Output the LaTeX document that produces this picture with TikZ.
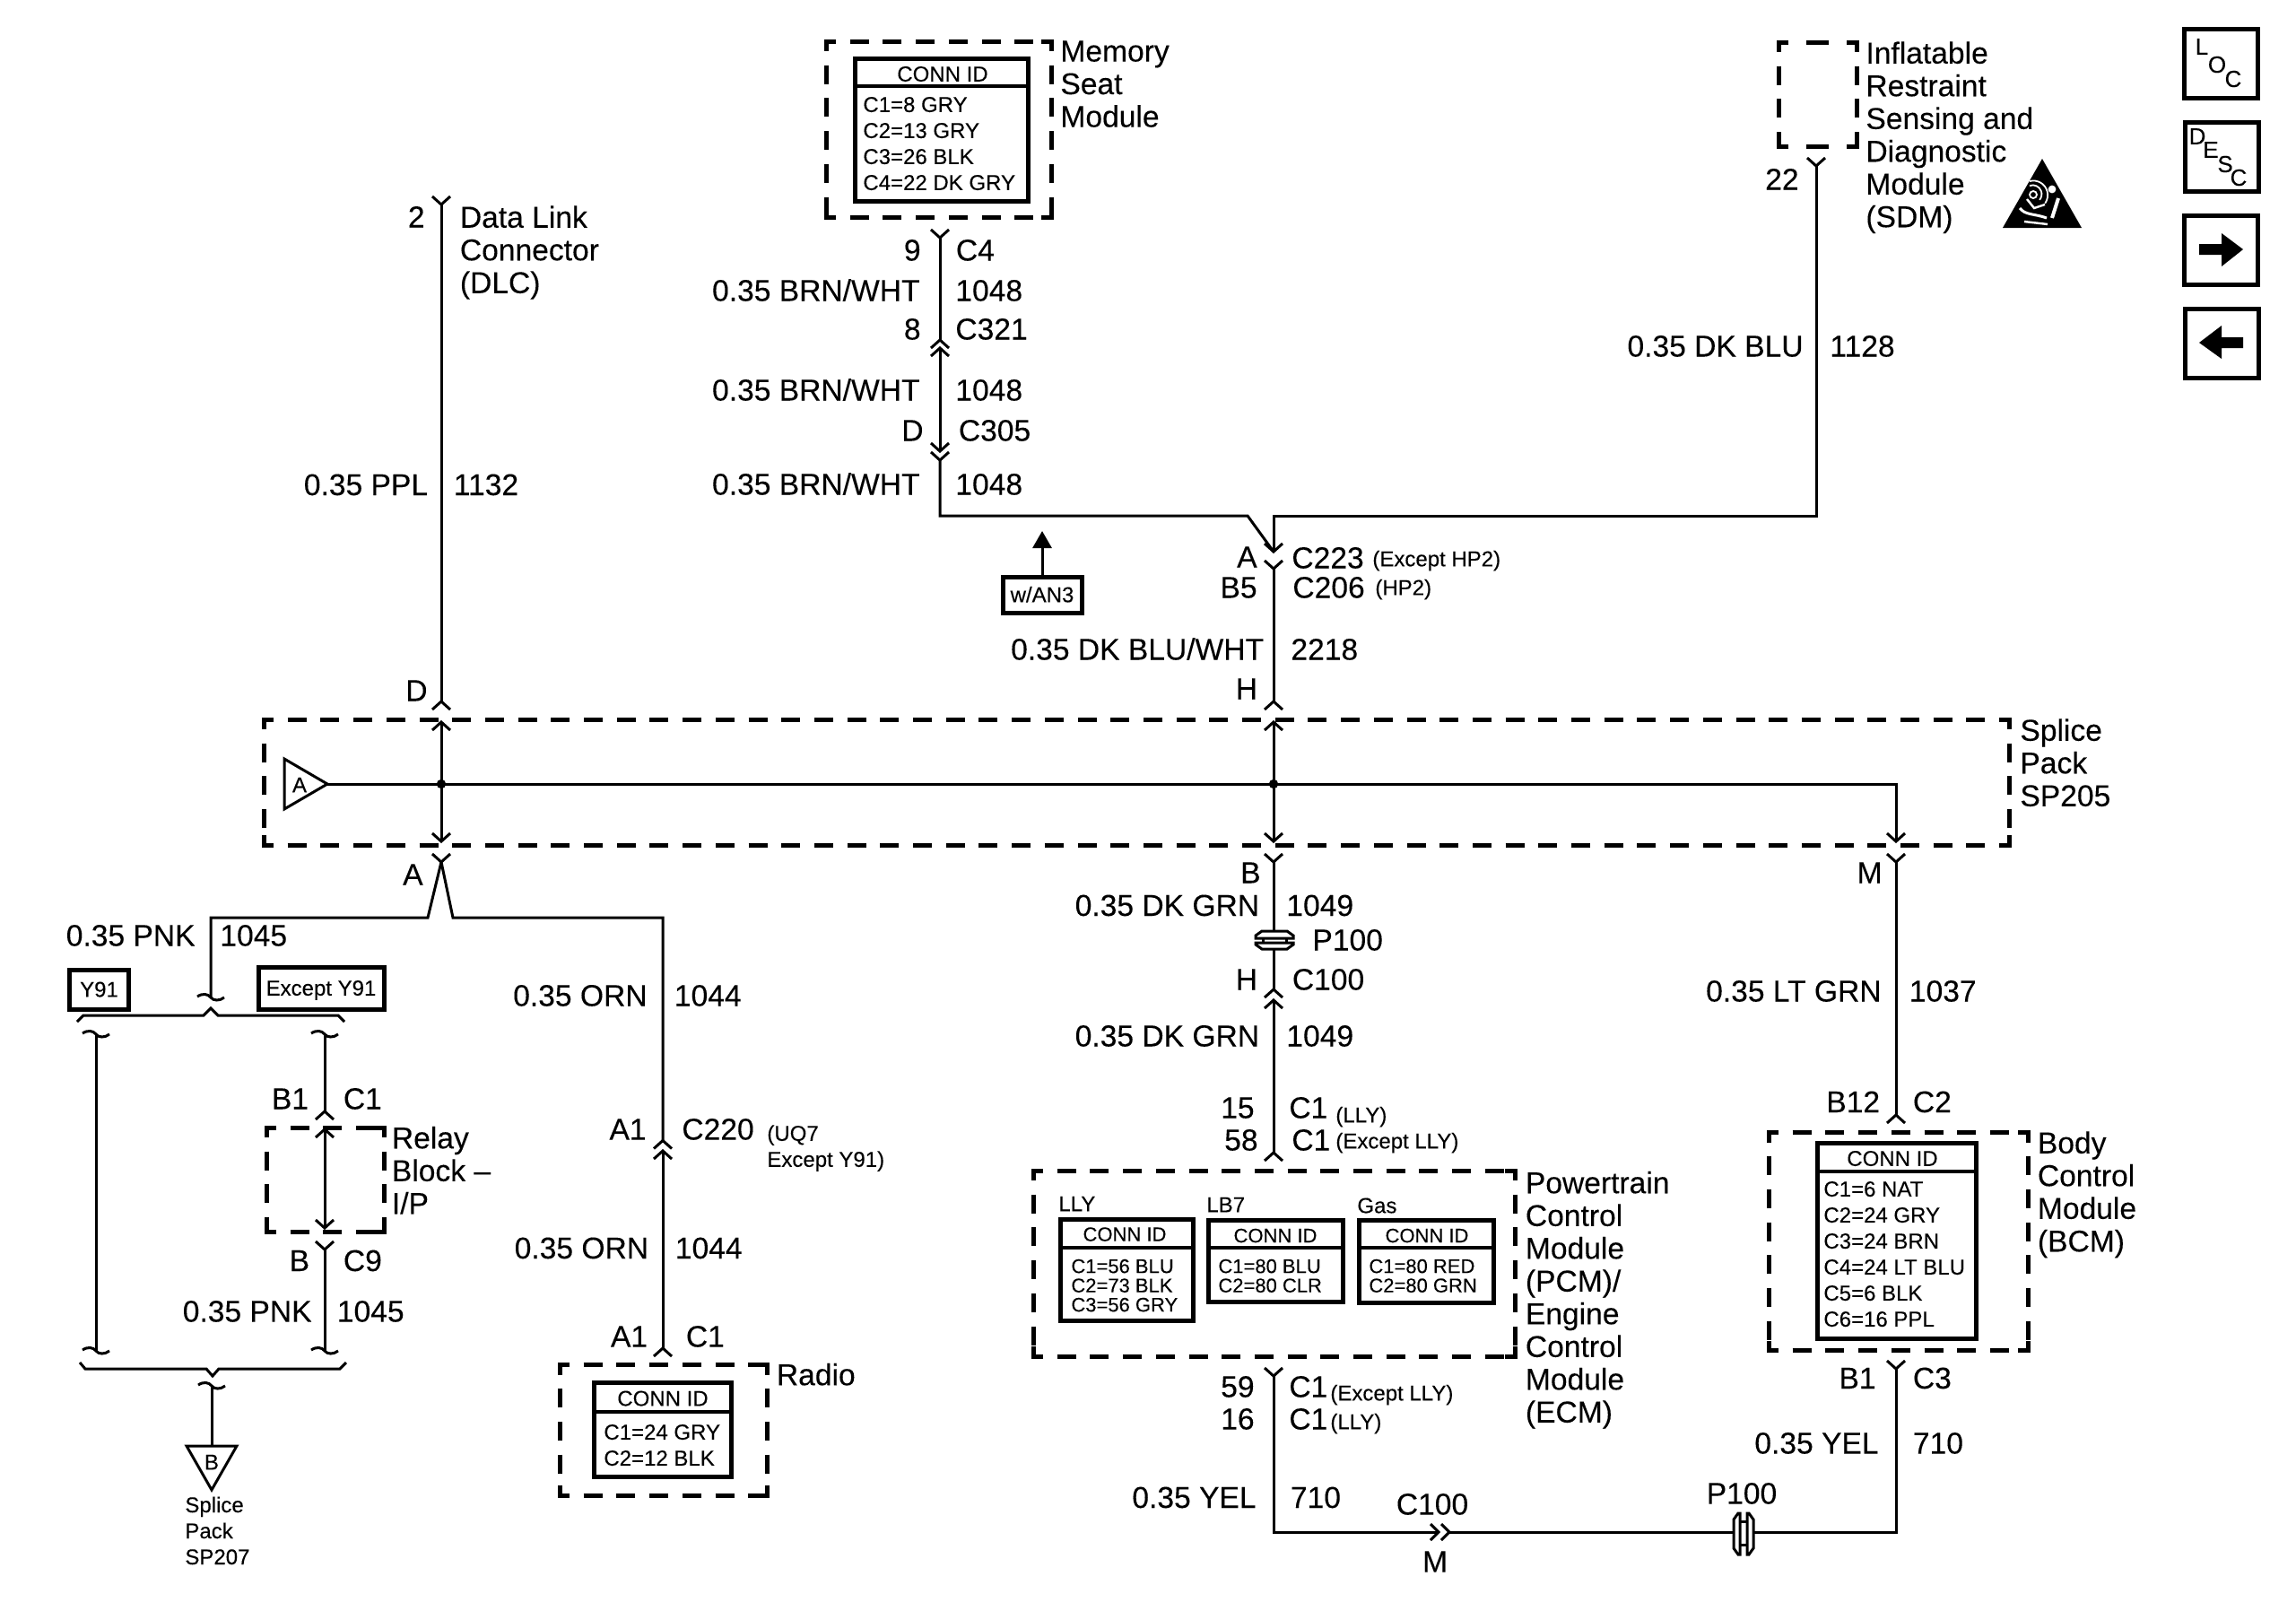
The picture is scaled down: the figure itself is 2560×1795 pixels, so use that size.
\documentclass[tikz,border=0pt]{standalone}
\usepackage{fontspec}
\setmainfont[FakeBold=0.12]{Liberation Sans}
\usetikzlibrary{arrows.meta}
\tikzset{
  wire/.style={line width=1.5pt,line join=miter,black},
  dline/.style={line width=2.5pt,black,dash pattern=on 10.5pt off 7.85pt,dash phase=5pt},
  dcorner/.style={line width=2.5pt,black,line join=miter},
  sz/.style 2 args={minimum width=#1*0.5pt,minimum height=#2*0.5pt,inner sep=0pt},
  idbox/.style={draw=black,line width=2.5pt,rectangle,fill=white},
  idline/.style={line width=2pt,black},
  big/.style={font=\fontsize{16.8}{18.25}\selectfont,inner sep=0pt,text=black},
  lab/.style={big,text height=11.5pt,text depth=0pt},
  rl/.style={lab,anchor=east},
  ll/.style={lab,anchor=west},
  cl/.style={lab,anchor=center},
  blk/.style={big,align=left,anchor=north west},
  sm/.style={font=\fontsize{12}{14.5}\selectfont,inner sep=0pt,text=black,text height=8.3pt,text depth=0pt},
  smb/.style={font=\fontsize{12}{14.5}\selectfont,inner sep=0pt,text=black,align=left,anchor=north west},
  tiny/.style={font=\fontsize{11}{10.75}\selectfont,inner sep=0pt,text=black,align=left,anchor=north west},
  tinyc/.style={font=\fontsize{11}{13}\selectfont,inner sep=0pt,text=black,text height=7.6pt,text depth=0pt},
  icl/.style={font=\fontsize{13}{15}\selectfont,inner sep=0pt,text=black},
  chevU/.pic={\draw[wire] (-10,9)--(0,0)--(10,9);},
  chevD/.pic={\draw[wire] (-10,-9)--(0,0)--(10,-9);},
  chevR/.pic={\draw[wire] (-9,-9)--(0,0)--(-9,9);},
  brk/.pic={\draw[wire] (-15,-1) .. controls (-9,-5) and (-3,-4) .. (0,0) .. controls (3,4) and (10,4) .. (15,0);},
}
\newcommand{\dcorners}[4]{%
  \draw[dcorner] (#1+11,#2)--(#1,#2)--(#1,#2+11);
  \draw[dcorner] (#3-11,#2)--(#3,#2)--(#3,#2+11);
  \draw[dcorner] (#1+11,#4)--(#1,#4)--(#1,#4-11);
  \draw[dcorner] (#3-11,#4)--(#3,#4)--(#3,#4-11);}
\newcommand{\dbox}[4]{%
  \draw[dline] (#1,#2)--(#3,#2);
  \draw[dline] (#1,#4)--(#3,#4);
  \draw[dline] (#1,#2)--(#1,#4-6);
  \draw[dline] (#3,#2)--(#3,#4-6);
  \dcorners{#1}{#2}{#3}{#4}}
\begin{document}
\begin{tikzpicture}[x=0.5pt,y=-0.5pt]
\useasboundingbox (0,0) rectangle (2560,1795);
\fill[white] (0,0) rectangle (2560,1795);

% ---------- dashed component outlines ----------
\dbox{921}{46}{1172}{242}
\dbox{294}{802}{2240}{942}
\dbox{297}{1257}{428}{1373}
\dbox{624}{1521.5}{855}{1667}
\dbox{1152}{1305}{1689}{1512}
\dbox{1972}{1262.5}{2261}{1505.5}
\draw[dline] (1983,47)--(1983,157);
\draw[dline] (2070,47)--(2070,157);
\draw[dcorner] (2014,47)--(2039,47);
\draw[dcorner] (2014,163)--(2039,163);
\dcorners{1983}{47}{2070}{163}

% ---------- junction coordinates ----------
\coordinate (dlcTop) at (492,228);
\coordinate (dlcEnd) at (492,782);
\coordinate (aUp) at (492,805);
\coordinate (aDown) at (492,938);
\coordinate (jA) at (492,874);
\coordinate (aOut) at (492,961);
\coordinate (aL) at (477,1023);
\coordinate (aLc) at (235,1023);
\coordinate (aLb) at (235,1112);
\coordinate (aR) at (505,1023);
\coordinate (aRc) at (739,1023);
\coordinate (radUp) at (739,1271.5);
\coordinate (radA) at (739,1283);
\coordinate (radB) at (739,1503);
\coordinate (brkY) at (107,1153);
\coordinate (brkYb) at (107,1506);
\coordinate (brkX) at (362,1153);
\coordinate (relIn) at (362,1239);
\coordinate (relA) at (362,1259);
\coordinate (relB) at (362,1369);
\coordinate (relOut) at (362,1393);
\coordinate (brkXb) at (362,1506);
\coordinate (brkB) at (236,1545);
\coordinate (triBtop) at (236,1612);
\coordinate (m1) at (1048,265);
\coordinate (m2) at (1048,379);
\coordinate (m3) at (1048,388);
\coordinate (m4) at (1048,503);
\coordinate (m5) at (1048,513);
\coordinate (m6) at (1048,575);
\coordinate (m7) at (1391,575);
\coordinate (s1) at (2025,185);
\coordinate (s2) at (2025,575);
\coordinate (s3) at (1420,575);
\coordinate (mTip) at (1420,615);
\coordinate (c1) at (1420,634);
\coordinate (c2) at (1420,782);
\coordinate (c3) at (1420,805);
\coordinate (c4) at (1420,938);
\coordinate (jB) at (1420,874);
\coordinate (c5) at (1420,961);
\coordinate (c6) at (1420,1038);
\coordinate (c7) at (1420,1058);
\coordinate (c8) at (1420,1103);
\coordinate (c9) at (1420,1115);
\coordinate (c10) at (1420,1285);
\coordinate (triAtip) at (365,874);
\coordinate (busEnd) at (2114,874);
\coordinate (busTip) at (2114,938);
\coordinate (b1) at (2114,961);
\coordinate (b2) at (2114,1243);
\coordinate (y1) at (1420,1534);
\coordinate (y2) at (1420,1708);
\coordinate (y3) at (1604,1708);
\coordinate (y4) at (1616,1708);
\coordinate (y5) at (1933,1708);
\coordinate (y6) at (1954,1708);
\coordinate (y7) at (2114,1708);
\coordinate (y8) at (2114,1526);
\coordinate (wanTip) at (1162,592);

% ---------- wires ----------
\draw[wire] (dlcTop)--(dlcEnd);
\draw[wire] (aUp)--(aDown);
\draw[wire] (aOut)--(aL)--(aLc)--(aLb);
\draw[wire] (aOut)--(aR)--(aRc)--(radUp);
\draw[wire] (radA)--(radB);
\draw[wire] (brkY)--(brkYb);
\draw[wire] (brkX)--(relIn);
\draw[wire] (relA)--(relB);
\draw[wire] (relOut)--(brkXb);
\draw[wire] (brkB)--(triBtop);
\draw[wire] (m1)--(m2);
\draw[wire] (m3)--(m4);
\draw[wire] (m5)--(m6)--(m7)--(mTip);
\draw[wire] (s1)--(s2)--(s3)--(mTip);
\draw[wire] (c1)--(c2);
\draw[wire] (c3)--(c4);
\draw[wire] (c5)--(c6);
\draw[wire] (c7)--(c8);
\draw[wire] (c9)--(c10);
\draw[wire] (triAtip)--(busEnd)--(busTip);
\draw[wire] (b1)--(b2);
\draw[wire] (y1)--(y2)--(y3);
\draw[wire] (y4)--(y5);
\draw[wire] (y6)--(y7)--(y8);
\fill[black] (jA) circle[radius=2.6pt];
\fill[black] (jB) circle[radius=2.6pt];

% ---------- connector symbols ----------
\pic at (dlcTop) {chevD};
\pic at (dlcEnd) {chevU};
\pic at (aUp) {chevU};
\pic at (aDown) {chevD};
\pic at (aOut) {chevD};
\pic at (radUp) {chevU};
\pic at (radA) {chevU};
\pic at (radB) {chevU};
\pic at (relIn) {chevU};
\pic at (relA) {chevU};
\pic at (relB) {chevD};
\pic at (relOut) {chevD};
\pic at (m1) {chevD};
\pic at (m2) {chevU};
\pic at (m3) {chevU};
\pic at (m4) {chevD};
\pic at (m5) {chevD};
\pic at (s1) {chevD};
\pic at (mTip) {chevD};
\pic at (c1) {chevD};
\pic at (c2) {chevU};
\pic at (c3) {chevU};
\pic at (c4) {chevD};
\pic at (c5) {chevD};
\pic at (c8) {chevU};
\pic at (c9) {chevU};
\pic at (c10) {chevU};
\pic at (busTip) {chevD};
\pic at (b1) {chevD};
\pic at (b2) {chevU};
\pic at (y1) {chevD};
\pic at (y3) {chevR};
\pic at (y4) {chevR};
\pic at (y8) {chevD};
\pic at (aLb) {brk};
\pic at (brkY) {brk};
\pic at (brkYb) {brk};
\pic at (brkX) {brk};
\pic at (brkXb) {brk};
\pic at (brkB) {brk};

% braces
\draw[wire] (86,1139)--(93,1132)--(227,1132)--(235,1124)--(243,1132)--(377,1132)--(384,1139);
\draw[wire] (89,1519)--(95,1526)--(230,1526)--(237,1534)--(244,1526)--(379,1526)--(386,1519);

% P100 (inline, vertical wire)
\draw[wire] (1407,1038)--(1435,1038)--(1442,1043)--(1442,1046)--(1400,1046)--(1400,1043)--cycle;
\draw[wire] (1400,1051)--(1442,1051)--(1442,1053)--(1435,1058)--(1407,1058)--(1400,1053)--cycle;
\draw[wire] (1408,1046)--(1408,1051);
\draw[wire] (1434,1046)--(1434,1051);
% P100 (inline, horizontal wire)
\draw[wire] (1933,1694)--(1938,1687)--(1940,1687)--(1940,1733)--(1938,1733)--(1933,1726)--cycle;
\draw[wire] (1948,1687)--(1950,1687)--(1955,1694)--(1955,1726)--(1950,1733)--(1948,1733)--cycle;
\draw[wire] (1940,1696)--(1948,1696);
\draw[wire] (1940,1722)--(1948,1722);

% triangles
\draw[wire,line join=miter] (317,846)--(317,902)--(triAtip)--cycle;
\node[sm] (triAlab) at (334,875) {A};
\draw[wire,line join=miter] (208,1612)--(264,1612)--(236,1661)--cycle;
\node[sm] (triBlab) at (236,1630) {B};

% ---------- ID boxes ----------
\node[idbox,sz={193}{159}] (memB) at (1049.5,144.5) {};
\draw[idline] (953,96)--(1146,96);
\node[sm] (memT) at (1051,82.5) {CONN ID};
\node[smb] (memR) at (962,107.7) {C1=8 GRY\\C2=13 GRY\\C3=26 BLK\\C4=22 DK GRY};

\node[idbox,sz={153}{105.5}] (radB2) at (738.5,1594) {};
\draw[idline] (662,1574)--(815,1574);
\node[sm] (radT) at (739,1559) {CONN ID};
\node[smb] (radR) at (673,1587.7) {C1=24 GRY\\C2=12 BLK};

\node[idbox,sz={176.5}{218}] (bcmB) at (2115,1383) {};
\draw[idline] (2026.7,1306)--(2203.3,1306);
\node[sm] (bcmT) at (2110,1291.5) {CONN ID};
\node[smb] (bcmR) at (2033,1316.7) {C1=6 NAT\\C2=24 GRY\\C3=24 BRN\\C4=24 LT BLU\\C5=6 BLK\\C6=16 PPL};

\node[idbox,sz={148}{113}] (llyB) at (1256,1415.5) {};
\draw[idline] (1182,1391)--(1330,1391);
\node[tinyc] (llyT) at (1254,1376) {CONN ID};
\node[tiny] (llyR) at (1194,1403.4) {C1=56 BLU\\C2=73 BLK\\C3=56 GRY};
\node[idbox,sz={150}{91}] (lb7B) at (1422,1405.5) {};
\draw[idline] (1347,1391)--(1497,1391);
\node[tinyc] (lb7T) at (1422,1377.5) {CONN ID};
\node[tiny] (lb7R) at (1358,1403.4) {C1=80 BLU\\C2=80 CLR};
\node[idbox,sz={150}{92}] (gasB) at (1590.5,1406) {};
\draw[idline] (1515.5,1391)--(1665.5,1391);
\node[tinyc] (gasT) at (1591,1377.5) {CONN ID};
\node[tiny] (gasR) at (1526,1403.4) {C1=80 RED\\C2=80 GRN};
\node[sm,anchor=west] (llyL) at (1180,1342) {LLY};
\node[sm,anchor=west] (lb7L) at (1345,1343) {LB7};
\node[sm,anchor=west] (gasL) at (1513,1344) {Gas};

\node[idbox,sz={66}{44},sm] (y91) at (110.5,1103) {Y91};
\node[idbox,sz={140}{47},sm] (ey91) at (358,1101.5) {Except Y91};
\node[idbox,sz={88}{40},sm] (wan) at (1162,663) {w/AN3};
\draw[line width=1.5pt,-{Triangle[length=9.5pt,width=10.5pt]}] (wan.north)--(wanTip);

% ---------- component names ----------
\node[blk] (memN) at (1182,45) {Memory\\Seat\\Module};
\node[blk] (sdmN) at (2080,46) {Inflatable\\Restraint\\Sensing and\\Diagnostic\\Module\\(SDM)};
\node[blk] (dlcN) at (512.5,229) {Data Link\\Connector\\(DLC)};
\node[blk] (spN) at (2252,801) {Splice\\Pack\\SP205};
\node[blk] (relN) at (436.5,1255.5) {Relay\\Block --\\I/P};
\node[blk] (radN) at (865.5,1519.5) {Radio};
\node[blk] (pcmN) at (1700.5,1305.5) {Powertrain\\Control\\Module\\(PCM)/\\Engine\\Control\\Module\\(ECM)};
\node[blk] (bcmN) at (2271.5,1261) {Body\\Control\\Module\\(BCM)};
\node[smb] (spbN) at (206,1668.2) {Splice\\Pack\\SP207};

% ---------- wire labels ----------
\node[rl] (n1) at (474,242) {2};
\node[rl] (n2) at (477.5,540.5) {0.35 PPL};
\node[ll] (n3) at (505.5,540.5) {1132};
\node[rl] (n4) at (477,770) {D};
\node[rl] (n5) at (472,975) {A};

\node[rl] (n6) at (1027,279) {9};
\node[ll] (n7) at (1065.5,279) {C4};
\node[rl] (n8) at (1026,324) {0.35 BRN/WHT};
\node[ll] (n9) at (1065,324) {1048};
\node[rl] (n10) at (1027,367) {8};
\node[ll] (n11) at (1065,367) {C321};
\node[rl] (n12) at (1026,435) {0.35 BRN/WHT};
\node[ll] (n13) at (1065,435) {1048};
\node[rl] (n14) at (1030,480) {D};
\node[ll] (n15) at (1068.5,480) {C305};
\node[rl] (n16) at (1026,540) {0.35 BRN/WHT};
\node[ll] (n17) at (1065,540) {1048};

\node[rl] (n18) at (2006,200) {22};
\node[rl] (n19) at (2011,386) {0.35 DK BLU};
\node[ll] (n20) at (2040,386) {1128};

\node[rl] (n21) at (1402,621) {A};
\node[ll] (n22) at (1440,622) {C223};
\node[sm,anchor=west] (n23) at (1530,623) {(Except HP2)};
\node[rl] (n24) at (1402,655) {B5};
\node[ll] (n25) at (1441,655) {C206};
\node[sm,anchor=west] (n26) at (1533,655) {(HP2)};
\node[rl] (n27) at (1409.5,724) {0.35 DK BLU/WHT};
\node[ll] (n28) at (1439,724) {2218};
\node[rl] (n29) at (1402.5,768) {H};

\node[rl] (n30) at (1406,973) {B};
\node[rl] (n31) at (1404.5,1009.5) {0.35 DK GRN};
\node[ll] (n32) at (1434,1009.5) {1049};
\node[ll] (n33) at (1463,1048) {P100};
\node[rl] (n34) at (1402.5,1092) {H};
\node[ll] (n35) at (1440.5,1092) {C100};
\node[rl] (n36) at (1404.5,1155) {0.35 DK GRN};
\node[ll] (n37) at (1434,1155) {1049};
\node[rl] (n38) at (1399,1235) {15};
\node[ll] (n39) at (1437,1235) {C1};
\node[sm,anchor=west] (n40) at (1489,1243) {(LLY)};
\node[rl] (n41) at (1403,1271) {58};
\node[ll] (n42) at (1440,1271) {C1};
\node[sm,anchor=west] (n43) at (1489,1272) {(Except LLY)};

\node[rl] (n44) at (1399,1546) {59};
\node[ll] (n45) at (1437,1546) {C1};
\node[sm,anchor=west] (n46) at (1483,1553) {(Except LLY)};
\node[rl] (n47) at (1399,1582) {16};
\node[ll] (n48) at (1437,1582) {C1};
\node[sm,anchor=west] (n49) at (1483,1585) {(LLY)};
\node[rl] (n50) at (1401,1669.5) {0.35 YEL};
\node[ll] (n51) at (1438.5,1669.5) {710};
\node[cl] (n52) at (1597,1677) {C100};
\node[cl] (n53) at (1600,1741) {M};
\node[cl] (n54) at (1942,1665) {P100};

\node[rl] (n55) at (2099,973) {M};
\node[rl] (n56) at (2098,1105) {0.35 LT GRN};
\node[ll] (n57) at (2128.5,1105) {1037};
\node[rl] (n58) at (2096.5,1228.5) {B12};
\node[ll] (n59) at (2132.5,1228.5) {C2};
\node[rl] (n60) at (2092,1536.5) {B1};
\node[ll] (n61) at (2132.5,1536.5) {C3};
\node[rl] (n62) at (2095,1609) {0.35 YEL};
\node[ll] (n63) at (2132.5,1609) {710};

\node[rl] (n64) at (218,1043) {0.35 PNK};
\node[ll] (n65) at (245,1043) {1045};
\node[rl] (n66) at (344.5,1225) {B1};
\node[ll] (n67) at (382.5,1225) {C1};
\node[rl] (n68) at (345.5,1405.5) {B};
\node[ll] (n69) at (382.5,1405.5) {C9};
\node[rl] (n70) at (348,1462) {0.35 PNK};
\node[ll] (n71) at (375.5,1462) {1045};

\node[rl] (n72) at (722,1110) {0.35 ORN};
\node[ll] (n73) at (751.5,1110) {1044};
\node[rl] (n74) at (721,1259) {A1};
\node[ll] (n75) at (760,1259) {C220};
\node[smb] (n76) at (855,1254) {(UQ7\\Except Y91)};
\node[rl] (n77) at (723.5,1391.5) {0.35 ORN};
\node[ll] (n78) at (752.5,1391.5) {1044};
\node[rl] (n79) at (722.5,1490) {A1};
\node[ll] (n80) at (764.5,1490) {C1};

% ---------- icons ----------
\node[idbox,sz={82}{77}] (locB) at (2476,70.5) {};
\node[icl] (locL) at (2455,52) {L};
\node[icl] (locO) at (2472,72) {O};
\node[icl] (locC) at (2490,88) {C};
\node[idbox,sz={82}{77}] (descB) at (2477,174.5) {};
\node[icl] (descD) at (2450,152) {D};
\node[icl] (descE) at (2465,167) {E};
\node[icl] (descS) at (2481,183) {S};
\node[icl] (descC) at (2496,198) {C};
\node[idbox,sz={82}{77}] (fwdB) at (2476,278.5) {};
\fill[black] (2452,272)--(2477,272)--(2477,260)--(2501,278)--(2477,297)--(2477,284)--(2452,284)--cycle;
\node[idbox,sz={82}{77}] (backB) at (2477,382.5) {};
\fill[black] (2452,382)--(2477,363)--(2477,376)--(2501,376)--(2501,388)--(2477,388)--(2477,400)--cycle;

% airbag warning triangle
\fill[black] (2277,177)--(2321,254)--(2233,254)--cycle;
\fill[white] (2288,211) circle[radius=2.2pt];
\draw[white,line width=0.9pt] (2267,217) circle[radius=2pt];
\draw[white,line width=0.9pt] (2263,207) arc[start angle=110,end angle=-40,radius=5pt];
\draw[white,line width=0.9pt] (2263,202) arc[start angle=105,end angle=-35,radius=8pt];
\draw[white,line width=2pt] (2295,221)--(2288,243);
\draw[white,line width=1.5pt] (2252,232) .. controls (2258,240) and (2268,238) .. (2282,243);
\draw[white,line width=1.2pt] (2257,247)--(2283,250);
\draw[white,line width=1.2pt] (2260,222)--(2268,232)--(2280,228);
\end{tikzpicture}
\end{document}
